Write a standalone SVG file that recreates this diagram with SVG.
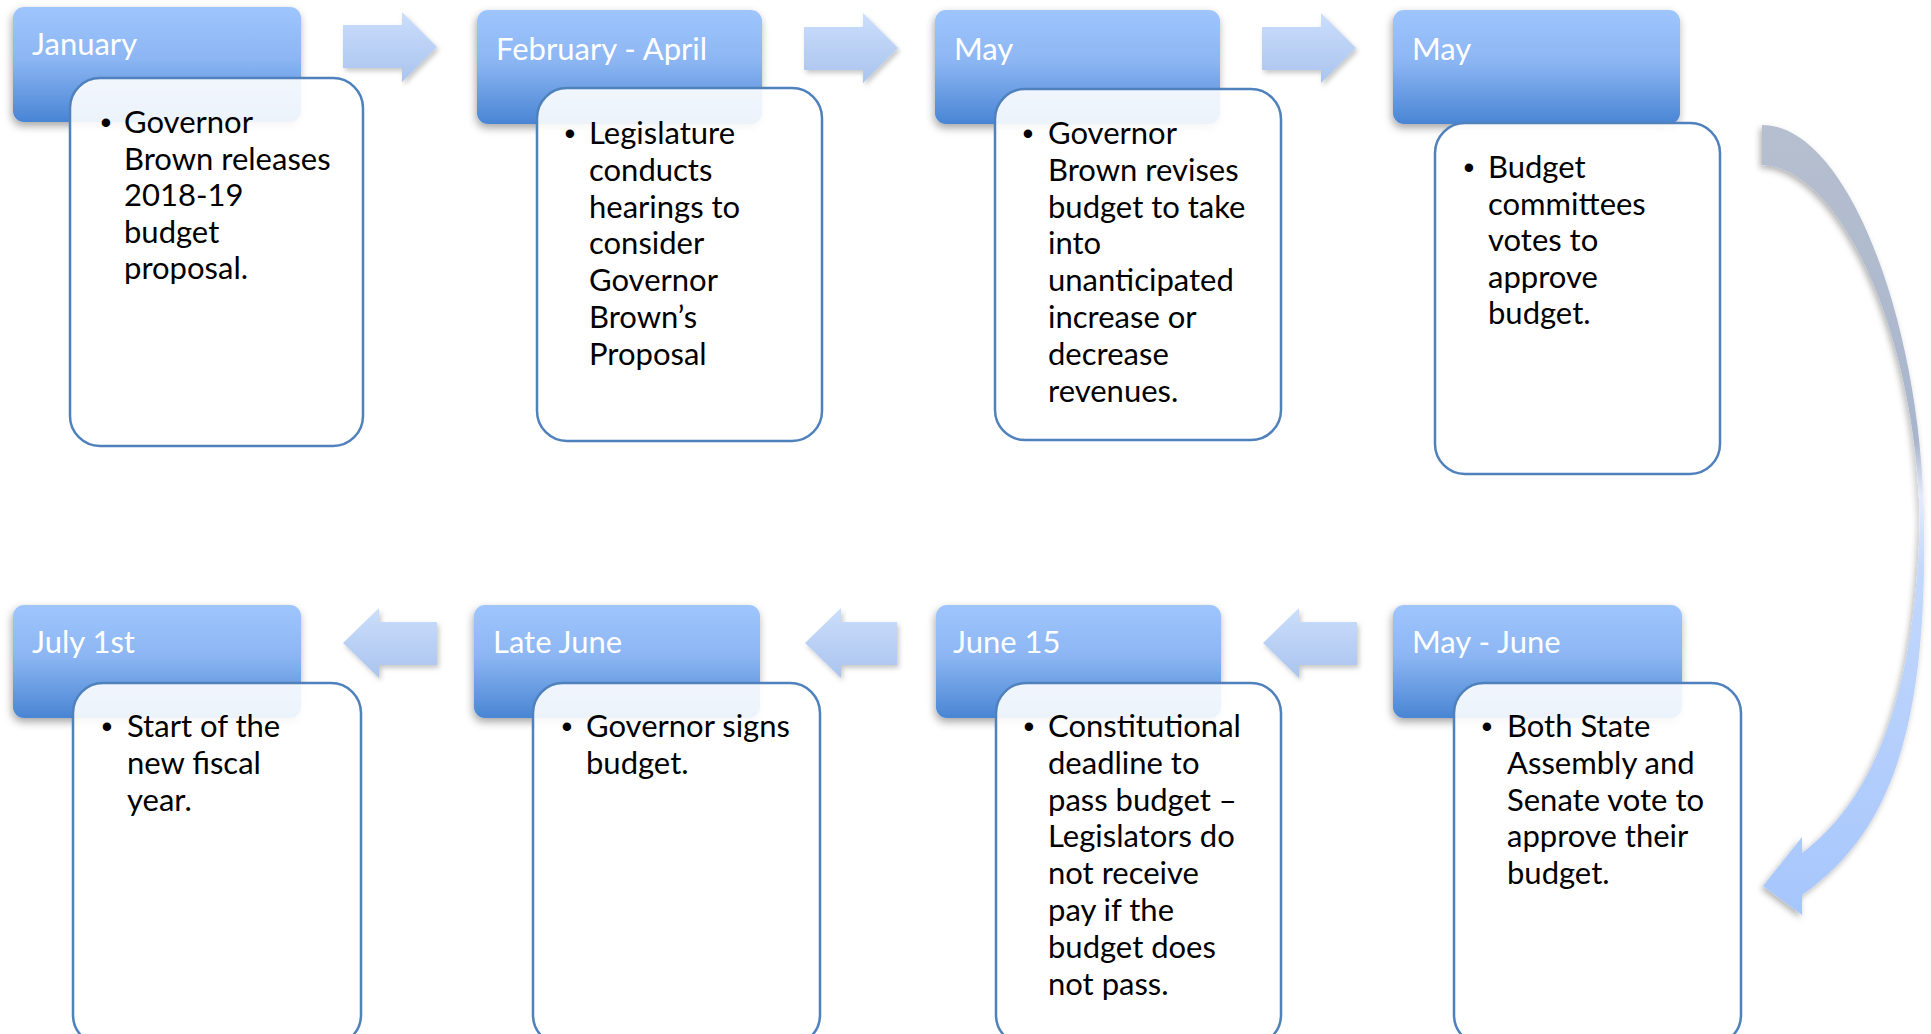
<svg xmlns="http://www.w3.org/2000/svg" width="1931" height="1034" viewBox="0 0 1931 1034">
<defs>
  <linearGradient id="hdr" x1="0" y1="0" x2="0" y2="1">
    <stop offset="0" stop-color="#9fc5fd"/>
    <stop offset="0.45" stop-color="#8cb6f3"/>
    <stop offset="1" stop-color="#4985d4"/>
  </linearGradient>
  <linearGradient id="arr" x1="0" y1="0" x2="0" y2="1">
    <stop offset="0" stop-color="#cbdefc"/>
    <stop offset="1" stop-color="#aac4ee"/>
  </linearGradient>
  <linearGradient id="curve" gradientUnits="userSpaceOnUse" x1="0" y1="125" x2="0" y2="915">
    <stop offset="0" stop-color="#b6bfcf"/>
    <stop offset="0.4" stop-color="#a8b5cd"/>
    <stop offset="0.47" stop-color="#e3ecfb"/>
    <stop offset="0.56" stop-color="#c3d8fc"/>
    <stop offset="1" stop-color="#a6c6fc"/>
  </linearGradient>
  <filter id="hshadow" x="-10%" y="-20%" width="125%" height="150%">
    <feDropShadow dx="-1" dy="4" stdDeviation="4" flood-color="#000" flood-opacity="0.35"/>
  </filter>
  <filter id="ashadow" x="-20%" y="-20%" width="150%" height="160%">
    <feDropShadow dx="2" dy="3" stdDeviation="2.5" flood-color="#000" flood-opacity="0.22"/>
  </filter>
  <filter id="cshadow" x="-30%" y="-10%" width="160%" height="130%">
    <feDropShadow dx="-2" dy="3" stdDeviation="3" flood-color="#000" flood-opacity="0.3"/>
  </filter>
</defs>
<style>
  .hdr { fill: url(#hdr); filter: url(#hshadow); }
  .body { fill: #ffffff; fill-opacity: 0.9; stroke: #4f81bd; stroke-width: 2.5; }
  .ht { font-family: Lato, "Open Sans", "Liberation Sans", sans-serif; font-size: 31px; fill: #ffffff; }
  .bt { font-family: Lato, "Open Sans", "Liberation Sans", sans-serif; font-size: 31px; fill: #000000; }
  .bul { font-family: "Liberation Sans", sans-serif; font-size: 31px; fill: #000000; text-anchor: middle; }
  .arr { fill: url(#arr); filter: url(#ashadow); }
  .curve { fill: url(#curve); filter: url(#cshadow); }
</style>
<rect width="1931" height="1034" fill="#ffffff"/>

<g id="connectors">
  <path class="arr" d="M343,25 H402 V12 L437,47 L402,82 V68 H343 Z"/>
  <path class="arr" d="M804,27 H863 V13 L898,48 L863,83 V70 H804 Z"/>
  <path class="arr" d="M1262,27 H1321 V13 L1356,48 L1321,83 V70 H1262 Z"/>
  <path class="arr" d="M437,622 H379 V608 L343,643 L379,678 V665 H437 Z"/>
  <path class="arr" d="M897,622 H841 V608 L805,643 L841,678 V665 H897 Z"/>
  <path class="arr" d="M1357,622 H1299 V608 L1263,643 L1299,678 V665 H1357 Z"/>
  <path class="curve" d="M1762,125 C1850,125 1922,330 1924,520 C1927,720 1895,830 1802,895 L1802,915 L1763,886 L1802,837 L1802,853 C1872,800 1915,700 1920,520 C1915,330 1840,168 1762,165 Z"/>
</g>

<g id="node-january">
  <rect class="hdr" x="13" y="7" width="288" height="115" rx="11"/>
  <text class="ht" x="32" y="55">January</text>
  <rect class="body" x="70" y="78" width="293" height="368" rx="30"/>
  <text class="bul" x="106" y="133">•</text>
  <text class="bt" x="124" y="133"><tspan x="124">Governor</tspan><tspan x="124" dy="36.5">Brown releases</tspan><tspan x="124" dy="36.5">2018-19</tspan><tspan x="124" dy="36.5">budget</tspan><tspan x="124" dy="36.5">proposal.</tspan></text>
</g>

<g id="node-feb-april">
  <rect class="hdr" x="477" y="10" width="285" height="114" rx="11"/>
  <text class="ht" x="496" y="60">February - April</text>
  <rect class="body" x="537" y="88" width="285" height="353" rx="30"/>
  <text class="bul" x="570" y="144">•</text>
  <text class="bt" x="589" y="144"><tspan x="589">Legislature</tspan><tspan x="589" dy="36.8">conducts</tspan><tspan x="589" dy="36.8">hearings to</tspan><tspan x="589" dy="36.8">consider</tspan><tspan x="589" dy="36.8">Governor</tspan><tspan x="589" dy="36.8">Brown’s</tspan><tspan x="589" dy="36.8">Proposal</tspan></text>
</g>

<g id="node-may-1">
  <rect class="hdr" x="935" y="10" width="285" height="114" rx="11"/>
  <text class="ht" x="954" y="60">May</text>
  <rect class="body" x="995" y="89" width="286" height="351" rx="30"/>
  <text class="bul" x="1028" y="144">•</text>
  <text class="bt" x="1048" y="144"><tspan x="1048">Governor</tspan><tspan x="1048" dy="36.8">Brown revises</tspan><tspan x="1048" dy="36.8">budget to take</tspan><tspan x="1048" dy="36.8">into</tspan><tspan x="1048" dy="36.8">unanticipated</tspan><tspan x="1048" dy="36.8">increase or</tspan><tspan x="1048" dy="36.8">decrease</tspan><tspan x="1048" dy="36.8">revenues.</tspan></text>
</g>

<g id="node-may-2">
  <rect class="hdr" x="1393" y="10" width="287" height="114" rx="11"/>
  <text class="ht" x="1412" y="60">May</text>
  <rect class="body" x="1435" y="123" width="285" height="351" rx="30"/>
  <text class="bul" x="1469" y="178">•</text>
  <text class="bt" x="1488" y="178"><tspan x="1488">Budget</tspan><tspan x="1488" dy="36.5">committees</tspan><tspan x="1488" dy="36.5">votes to</tspan><tspan x="1488" dy="36.5">approve</tspan><tspan x="1488" dy="36.5">budget.</tspan></text>
</g>

<g id="node-may-june">
  <rect class="hdr" x="1393" y="605" width="289" height="113" rx="11"/>
  <text class="ht" x="1412" y="653">May - June</text>
  <rect class="body" x="1454" y="683" width="287" height="362" rx="30"/>
  <text class="bul" x="1487" y="737">•</text>
  <text class="bt" x="1507" y="737"><tspan x="1507">Both State</tspan><tspan x="1507" dy="36.8">Assembly and</tspan><tspan x="1507" dy="36.8">Senate vote to</tspan><tspan x="1507" dy="36.8">approve their</tspan><tspan x="1507" dy="36.8">budget.</tspan></text>
</g>

<g id="node-june-15">
  <rect class="hdr" x="936" y="605" width="285" height="113" rx="11"/>
  <text class="ht" x="953" y="653">June 15</text>
  <rect class="body" x="996" y="683" width="285" height="362" rx="30"/>
  <text class="bul" x="1029" y="737">•</text>
  <text class="bt" x="1048" y="737"><tspan x="1048">Constitutional</tspan><tspan x="1048" dy="36.8">deadline to</tspan><tspan x="1048" dy="36.8">pass budget –</tspan><tspan x="1048" dy="36.8">Legislators do</tspan><tspan x="1048" dy="36.8">not receive</tspan><tspan x="1048" dy="36.8">pay if the</tspan><tspan x="1048" dy="36.8">budget does</tspan><tspan x="1048" dy="36.8">not pass.</tspan></text>
</g>

<g id="node-late-june">
  <rect class="hdr" x="474" y="605" width="286" height="113" rx="11"/>
  <text class="ht" x="493" y="653">Late June</text>
  <rect class="body" x="533" y="683" width="287" height="362" rx="30"/>
  <text class="bul" x="567" y="737">•</text>
  <text class="bt" x="586" y="737"><tspan x="586">Governor signs</tspan><tspan x="586" dy="36.8">budget.</tspan></text>
</g>

<g id="node-july-1st">
  <rect class="hdr" x="13" y="605" width="288" height="113" rx="11"/>
  <text class="ht" x="32" y="653">July 1st</text>
  <rect class="body" x="73" y="683" width="288" height="362" rx="30"/>
  <text class="bul" x="107" y="737">•</text>
  <text class="bt" x="127" y="737"><tspan x="127">Start of the</tspan><tspan x="127" dy="36.8">new fiscal</tspan><tspan x="127" dy="36.8">year.</tspan></text>
</g>
</svg>
